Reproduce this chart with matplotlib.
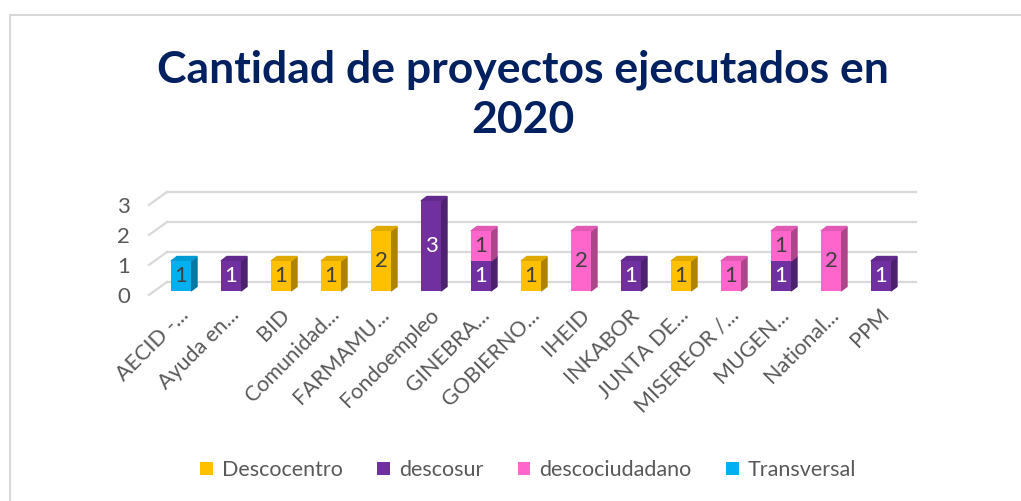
import numpy as np
import matplotlib
matplotlib.use("Agg")
import matplotlib.pyplot as plt
from matplotlib.patches import Polygon, Patch
from matplotlib.colors import to_rgb

plt.rcParams['font.family'] = ['Lato', 'DejaVu Sans']

# ---- data ----
categorias = ["AECID -...", "Ayuda en...", "BID", "Comunidad...", "FARMAMU...",
              "Fondoempleo", "GINEBRA...", "GOBIERNO...", "IHEID", "INKABOR",
              "JUNTA DE...", "MISEREOR /...", "MUGEN...", "National...", "PPM"]
descocentro    = [0, 0, 1, 1, 2, 0, 0, 1, 0, 0, 1, 0, 0, 0, 0]
descosur       = [0, 1, 0, 0, 0, 3, 1, 0, 0, 1, 0, 0, 1, 0, 1]
descociudadano = [0, 0, 0, 0, 0, 0, 1, 0, 2, 0, 0, 1, 1, 2, 0]
transversal    = [1, 0, 0, 0, 0, 0, 0, 0, 0, 0, 0, 0, 0, 0, 0]
y_ticks = [0, 1, 2, 3]

series = [("Descocentro", descocentro, "#FFC000", "#404040"),
          ("descosur", descosur, "#7030A0", "white"),
          ("descociudadano", descociudadano, "#FF66CC", "#404040"),
          ("Transversal", transversal, "#00B0F0", "#404040")]

titulo_1 = "Cantidad de proyectos ejecutados en"
titulo_2 = "2020"
GRIS = "#595959"
GRID = "#D9D9D9"

# ---- figura ----
W, H = 1021, 501
fig = plt.figure(figsize=(W / 100, H / 100), dpi=100)

# axes colocado en pixeles: 50 px por categoria, 30 px por unidad
px_l, px_r, px_top, px_bot = 100, 940, 170, 300
ax = fig.add_axes([px_l / W, 1 - px_bot / H, (px_r - px_l) / W, (px_bot - px_top) / H])
ax.set_xlim((px_l - 181) / 50, (px_r - 181) / 50)
ax.set_ylim((291 - px_bot) / 30, (291 - px_top) / 30)
ax.axis("off")

# borde del grafico
fig.patches.append(plt.Rectangle((10 / W, -0.1), 1.2, 1 - 15 / H + 0.1,
                                  transform=fig.transFigure, fill=False,
                                  edgecolor="#D9D9D9", linewidth=1.5))

# pared de fondo (grid) y pared lateral
wall_dy = 0.3
x0, x1, xs = -0.28, 14.7, -0.64
for v in y_ticks:
    ax.plot([x0, x1], [v + wall_dy, v + wall_dy], color=GRID, lw=1.6, zorder=1)
    ax.plot([xs, x0], [v - 0.13, v + wall_dy], color=GRID, lw=1.6, zorder=1)
    ax.text(-1.02, v - 0.2, str(v), ha="right", va="center", fontsize=16,
            color=GRIS, clip_on=False)

# barras pseudo 3D
x = np.arange(len(categorias))
w, dx, dy = 0.4, 0.12, 0.15
base = np.zeros(len(categorias))
z = 3
for nombre, vals, col, tcol in series:
    vals = np.array(vals, dtype=float)
    rgb = np.array(to_rgb(col))
    ax.bar(x, vals, w, bottom=base, color=col, zorder=z + 1)
    for i in np.nonzero(vals)[0]:
        b, v = base[i], vals[i]
        xr = x[i] + w / 2
        side = [(xr, b), (xr + dx, b + dy), (xr + dx, b + v + dy), (xr, b + v)]
        top = [(x[i] - w / 2, b + v), (x[i] - w / 2 + dx, b + v + dy),
               (xr + dx, b + v + dy), (xr, b + v)]
        ax.add_patch(Polygon(side, closed=True, color=rgb * 0.68, zorder=z))
        ax.add_patch(Polygon(top, closed=True, color=rgb * 0.88, zorder=z))
        ax.text(x[i], b + v / 2, f"{v:g}", ha="center", va="center",
                fontsize=16, color=tcol, zorder=z + 2)
    base = base + vals
    z += 3

for i, lab in enumerate(categorias):
    ax.text(x[i] - 0.04, -0.45, lab, rotation=45, ha="right", va="top",
            rotation_mode="anchor", fontsize=15.5, color=GRIS)

fig.text(523 / W, 1 - 82 / H, titulo_1, ha="center", va="baseline", fontsize=32,
         fontweight="bold", color="#002060")
fig.text(523 / W, 1 - 133 / H, titulo_2, ha="center", va="baseline", fontsize=32,
         fontweight="bold", color="#002060")

handles = [Patch(facecolor=c) for _, _, c, _ in series]
fig.legend(handles, [s[0] for s in series], loc="center", ncol=4,
           bbox_to_anchor=(528 / W, 1 - 470 / H), frameon=False,
           fontsize=15.5, handlelength=0.6, handleheight=0.6,
           handletextpad=0.4, columnspacing=1.6, labelcolor=GRIS)

fig.savefig("out.png", dpi=100)
